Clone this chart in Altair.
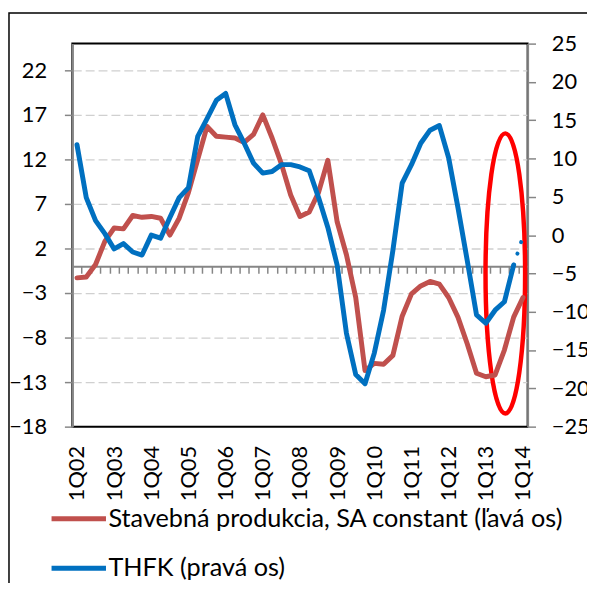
import json
import altair as alt
import pandas as pd

# ---- data ----
quarters = [f"{q}Q{y:02d}" for y in range(2, 15) for q in range(1, 5)][:49]

stavebna = [-1.3, -1.2, 0.2, 2.8, 4.3, 4.2, 5.7, 5.5, 5.6, 5.4, 3.5, 5.4, 8.3,
            12.0, 15.7, 14.6, 14.5, 14.4, 13.9, 14.8, 17.0, 14.4, 11.5, 8.0, 5.6,
            6.1, 8.3, 11.9, 5.0, 1.3, -3.5, -11.7, -10.9, -11.0, -10.0, -5.6, -3.1,
            -2.2, -1.7, -2.0, -3.5, -5.7, -8.7, -12.0, -12.4, -12.2, -9.4, -5.7, -3.5]

thfk = [11.8, 4.9, 1.9, 0.2, -1.8, -1.1, -2.2, -2.6, 0.0, -0.4, 2.3, 4.9, 6.2,
        12.9, 15.2, 17.6, 18.5, 14.4, 12.0, 9.4, 8.1, 8.3, 9.2, 9.2, 8.9, 8.4,
        4.9, 1.0, -3.9, -12.8, -18.2, -19.4, -15.4, -9.8, -2.0, 6.8, 9.2, 12.0,
        13.7, 14.3, 10.1, 3.6, -3.3, -10.4, -11.5, -9.8, -8.7, -3.9, -0.2]

left_ticks = [-18, -13, -8, -3, 2, 7, 12, 17, 22]
left_grid = [-13, -8, -3, 2, 7, 12, 17, 22]
right_ticks = [-25, -20, -15, -10, -5, 0, 5, 10, 15, 20, 25]
label_idx = list(range(0, 49, 4))
boundary_ticks = [k + 0.5 for k in range(48)]

ellipse_center_q = [46.1]
ellipse_center_v = [-0.8]

name_red = "Stavebná produkcia, SA constant (ľavá os)"
name_blue = "THFK (pravá os)"
RED = "#C0504D"
BLUE = "#0070C0"
GRAY = "#868686"
FONT = "Lato"
AX_FS = 22

idx = list(range(len(quarters)))
df_red = pd.DataFrame({"i": idx, "q": quarters, "v": stavebna, "s": name_red})
df_blue = pd.DataFrame({"i": idx[:48], "q": quarters[:48], "v": thfk[:48], "s": name_blue})
df_blue_dot = pd.DataFrame({"i": idx[47:], "v": thfk[47:]})
df_ell = pd.DataFrame({"i": ellipse_center_q, "v": ellipse_center_v})

xscale = alt.Scale(domain=[-0.5, 48.5], nice=False, zero=False)
lscale = alt.Scale(domain=[-18, 25], nice=False, zero=False)
rscale = alt.Scale(domain=[-25, 25], nice=False, zero=False)

color = alt.Color(
    "s:N",
    scale=alt.Scale(domain=[name_red, name_blue], range=[RED, BLUE]),
    legend=alt.Legend(
        orient="none", legendX=-23.5, legendY=468, title=None,
        direction="vertical", symbolType="stroke", symbolStrokeWidth=5,
        symbolSize=3025, clipHeight=24, rowPadding=24, labelOffset=0,
        labelFontSize=25.5, labelFont=FONT, labelColor="black", labelLimit=700,
        padding=0,
    ),
)

label_expr = json.dumps(quarters) + "[datum.value]"

red = alt.Chart(df_red).mark_line(strokeWidth=5, strokeJoin="round", strokeCap="round").encode(
    x=alt.X("i:Q", scale=xscale, axis=alt.Axis(
        orient="bottom", values=label_idx, labelExpr=label_expr, labelAngle=270,
        ticks=False, tickSize=0, domain=False, grid=False, labelFlush=False,
        labelOverlap=False, labelFontSize=AX_FS, labelFont=FONT, labelColor="black",
        labelPadding=19, title=None, zindex=0)),
    y=alt.Y("v:Q", scale=lscale, axis=alt.Axis(
        orient="left", values=left_ticks, grid=False, domainColor=GRAY, domainWidth=2,
        tickColor=GRAY, tickWidth=1.5, tickSize=8, labelFontSize=AX_FS, labelFont=FONT,
        labelColor="black", labelPadding=18, title=None, zindex=0)),
    color=color,
)

blue = alt.Chart(df_blue).mark_line(strokeWidth=5, strokeJoin="round", strokeCap="round").encode(
    x=alt.X("i:Q", scale=xscale, axis=alt.Axis(
        orient="bottom", offset=-162, values=boundary_ticks, labels=False,
        ticks=True, tickSize=7, tickColor=GRAY, tickWidth=1.5, domainColor=GRAY,
        domainWidth=2, grid=False, title=None, zindex=0)),
    y=alt.Y("v:Q", scale=rscale, axis=alt.Axis(
        orient="right", values=right_ticks, grid=False, domainColor=GRAY, domainWidth=2,
        tickColor=GRAY, tickWidth=1.5, tickSize=8, labelFontSize=AX_FS, labelFont=FONT,
        labelColor="black", labelPadding=16, labelAlign="left", title=None, zindex=0)),
    color=color,
)

blue_dot = alt.Chart(df_blue_dot).mark_line(
    strokeWidth=4, strokeCap="round", strokeDash=[0.1, 12], color=BLUE
).encode(
    x=alt.X("i:Q", scale=xscale, axis=None),
    y=alt.Y("v:Q", scale=rscale, axis=None),
)

rx = 0.1413
kx = round(0.5523 * rx, 4)
k = 0.5523
ellipse_path = (f"M0,-1 C{kx},-1 {rx},-{k} {rx},0 C{rx},{k} {kx},1 0,1 "
                f"C-{kx},1 -{rx},{k} -{rx},0 C-{rx},-{k} -{kx},-1 0,-1 Z")

ellipse = alt.Chart(df_ell).mark_point(
    shape=ellipse_path, size=283 * 283, filled=False, stroke="#FF0000",
    strokeWidth=4.5, opacity=1
).encode(
    x=alt.X("i:Q", scale=xscale, axis=None),
    y=alt.Y("v:Q", scale=lscale, axis=alt.Axis(
        orient="left", values=left_grid, grid=True, gridDash=[9, 4],
        gridColor="#D0D0D0", gridWidth=1.3, labels=False, ticks=False,
        domain=False, title=None, zindex=0)),
)

frame = alt.Chart(pd.DataFrame({"a": [0]})).mark_rect(
    filled=False, stroke="black", strokeWidth=1.5
).encode(
    x=alt.value(-64), x2=alt.value(800), y=alt.value(-31), y2=alt.value(800)
)

chart = alt.layer(ellipse, red, blue, blue_dot, frame).resolve_scale(
    y="independent"
).resolve_axis(x="independent", y="independent").properties(
    width=460, height=387,
    padding={"left": 65, "top": 33, "right": 60, "bottom": 155},
    autosize=alt.AutoSizeParams(type="none"),
).configure_view(stroke="black", strokeWidth=2)

chart.save("out.html", embed_options={"renderer": "svg", "actions": False})
